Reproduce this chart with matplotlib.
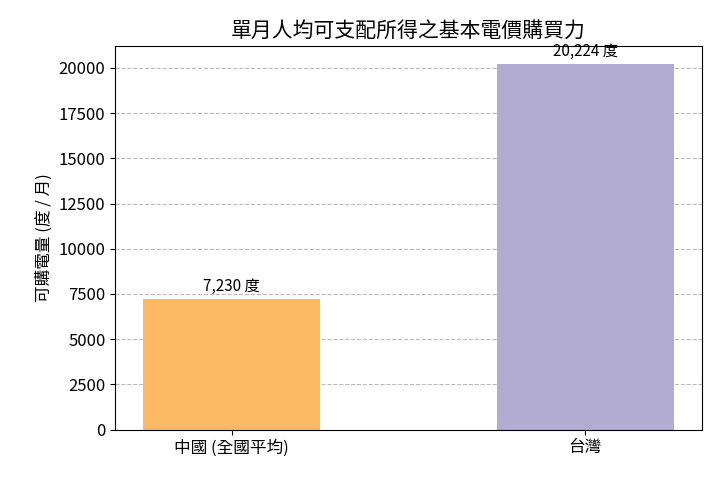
import matplotlib
matplotlib.use("Agg")
import matplotlib.pyplot as plt

plt.rcParams['font.family'] = ['Noto Sans CJK TC', 'DejaVu Sans']

regions = ['中國 (全國平均)', '台灣']
kwh = [7230, 20224]
colors = ['#fdb863', '#b2abd2']

fig, ax = plt.subplots(figsize=(7.2, 4.8), dpi=100)
bars = ax.bar(regions, kwh, color=colors, width=0.5, zorder=2)
for b, v in zip(bars, kwh):
    ax.text(b.get_x() + b.get_width() / 2, v + 200, f'{v:,} 度',
            ha='center', va='bottom', fontsize=11)

ax.set_ylim(0, max(kwh) * 1.05)
ax.set_xlim(-0.33, 1.33)
ax.yaxis.grid(True, linestyle='--', color='#bbbbbb', zorder=0)
ax.set_ylabel('可購電量 (度 / 月)', fontsize=12)
ax.set_title('單月人均可支配所得之基本電價購買力', fontsize=15)
ax.tick_params(labelsize=12)

fig.subplots_adjust(left=0.16, right=0.975, top=0.905, bottom=0.105)
fig.savefig('out.png')
